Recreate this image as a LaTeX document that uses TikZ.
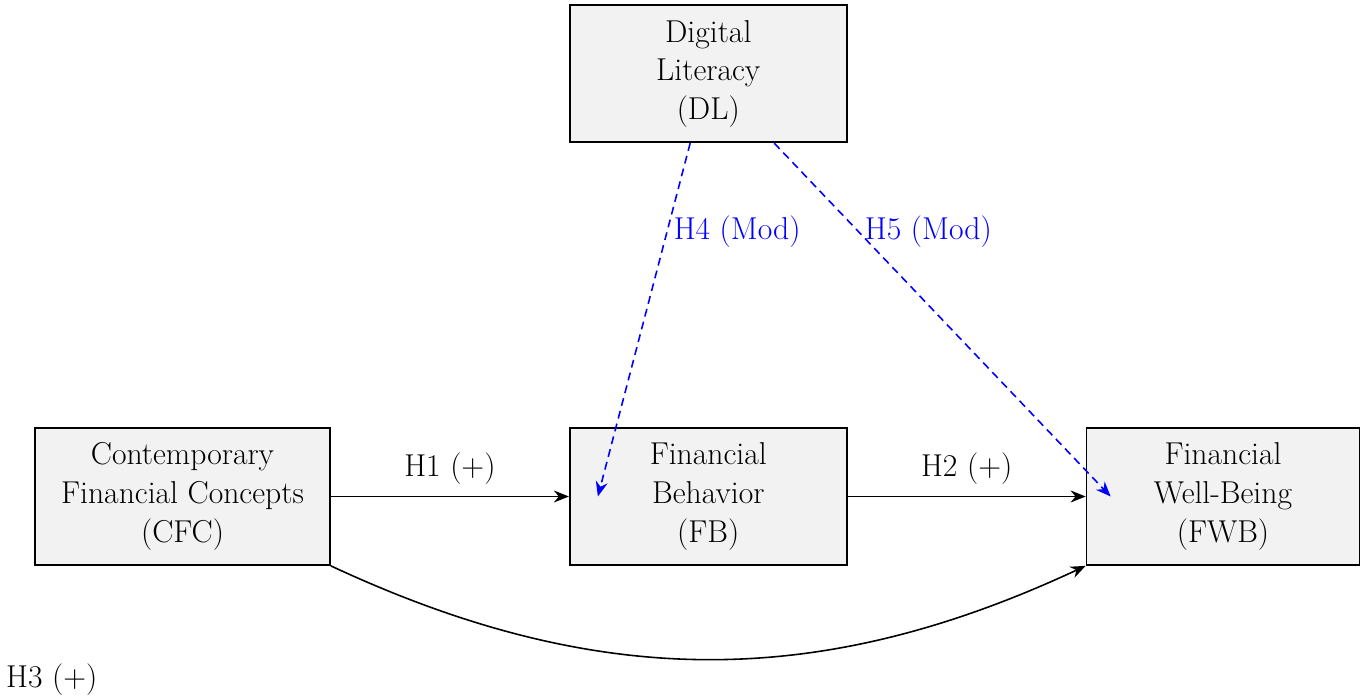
\documentclass[tikz,border=0pt]{standalone}
\usepackage{xcolor}
\usepackage{tikz}
\usetikzlibrary{positioning,arrows.meta,calc}

\begin{document}
\begin{tikzpicture}[
    node distance=4.76cm,
    font=\fontsize{18}{22}\selectfont,
    box/.style={draw, line width=1pt, align=center, minimum width=5.54cm, minimum height=2.74cm, fill=gray!10},
    arrow/.style={-{Stealth[length=3mm,width=2.4mm]}, line width=0.9pt},
    modarrow/.style={-{Stealth[length=3mm,width=2.4mm]}, line width=0.9pt, blue, dash pattern=on 4.5pt off 3pt}
]
\useasboundingbox (0,0) rectangle (27.22,13.94);
\node[box, minimum width=5.9cm] (cfc) at (3.65,4.01) {Contemporary\\Financial Concepts\\(CFC)};
\node[box, right=of cfc] (fb) {Financial\\Behavior\\(FB)};
\node[box, right=of fb, minimum width=5.46cm] (fwb) {Financial\\Well-Being\\(FWB)};
\node[box, above=5.68cm of fb] (dl) {Digital\\Literacy\\(DL)};
\coordinate (fbin) at ($(fb.west)+(0.58,0)$);
\coordinate (fwbin) at ($(fwb.west)+(0.5,0)$);
\draw[arrow] (cfc) -- node[above=3pt]{H1 (+)} (fb);
\draw[arrow] (fb) -- node[above=3pt]{H2 (+)} (fwb);
\draw[arrow] (cfc.south east) to[bend right=25] (fwb.south west);
\node[anchor=west] (h3) at (0,0.34) {H3 (+)};
\draw[modarrow] (dl) -- node[right, pos=0.25]{H4 (Mod)} (fbin);
\draw[modarrow] (dl) -- node[right, pos=0.25]{H5 (Mod)} (fwbin);
\end{tikzpicture}
\end{document}
